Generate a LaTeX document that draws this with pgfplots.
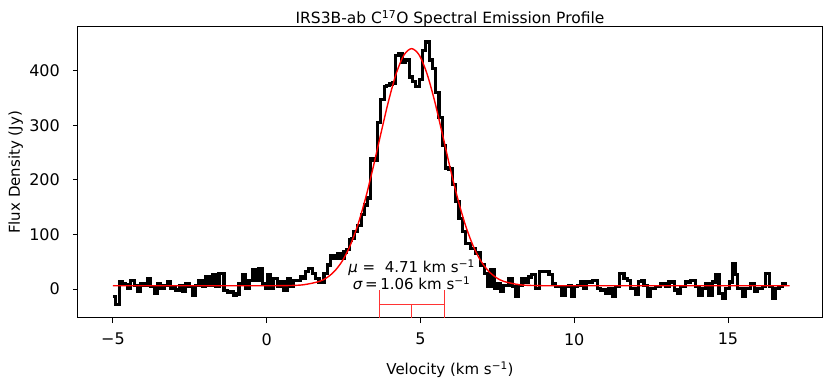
\documentclass[border=0pt]{standalone}
\usepackage{fontspec}
\setmainfont{DejaVu Sans}
\usepackage{pgfplots}
\pgfplotsset{compat=1.18}

% velocity bin left edge, flux density (Jy)
\pgfplotstableread{
x y
-5.00 -14
-4.91 -29
-4.80 13
-4.69 10
-4.61 8
-4.53 1
-4.42 16
-4.31 7
-4.21 -5
-4.10 10
-3.99 7
-3.88 20
-3.77 4
-3.66 -8
-3.56 10
-3.45 1
-3.34 7
-3.23 13
-3.12 1
-3.04 5
-2.96 -2
-2.85 7
-2.74 -5
-2.63 10
-2.53 4
-2.42 -11
-2.31 7
-2.20 16
-2.09 4
-1.98 22
-1.88 7
-1.77 26
-1.66 4
-1.55 29
-1.39 -3
-1.28 -6
-1.17 -5
-1.07 -11
-0.98 -9
-0.90 10
-0.80 26
-0.69 1
-0.58 16
-0.47 35
-0.36 16
-0.25 38
-0.15 10
-0.04 1
0.02 26
0.13 1
0.23 20
0.34 4
0.45 13
0.56 -2
0.67 20
0.78 4
0.88 16
0.99 16
1.10 22
1.18 20
1.26 32
1.37 38
1.48 29
1.59 20
1.70 13
1.78 12
1.86 29
1.97 44
2.08 62
2.19 56
2.30 65
2.41 57
2.51 68
2.60 72
2.68 90
2.76 92
2.84 105
2.95 117
3.08 136
3.17 154
3.27 167
3.38 240
3.49 236
3.60 305
3.71 347
3.82 371
3.90 373
3.98 376
4.09 378
4.20 429
4.30 431
4.40 416
4.50 420
4.58 420
4.64 389
4.74 380
4.85 371
4.96 385
5.06 438
5.17 453
5.28 420
5.39 405
5.50 361
5.60 314
5.71 264
5.82 222
5.93 220
6.04 191
6.15 160
6.25 130
6.36 105
6.47 84
6.55 84
6.63 75
6.72 74
6.80 66
6.88 66
6.96 44
7.07 29
7.18 4
7.29 35
7.40 1
7.50 10
7.60 -5
7.70 7
7.79 7
7.88 20
7.98 4
8.10 -14
8.20 7
8.30 20
8.40 13
8.50 22
8.60 26
8.74 1
8.86 32
8.97 32
9.07 32
9.18 26
9.29 10
9.40 4
9.50 4
9.60 -11
9.70 4
9.80 7
9.90 -14
10.00 4
10.10 7
10.20 13
10.30 1
10.40 13
10.50 13
10.60 16
10.75 1
10.86 -2
10.94 -2
11.02 -8
11.13 1
11.24 -14
11.35 4
11.46 29
11.54 29
11.62 20
11.73 16
11.84 1
11.92 1
12.00 -10
12.10 14
12.20 16
12.27 7
12.38 -14
12.49 1
12.57 1
12.65 4
12.73 4
12.81 10
12.90 10
12.98 4
13.08 13
13.16 13
13.25 -2
13.35 -8
13.46 4
13.55 4
13.63 13
13.71 13
13.79 16
13.87 16
13.95 4
14.06 -11
14.17 1
14.28 10
14.38 -11
14.49 13
14.60 26
14.71 -8
14.82 -17
14.93 1
15.04 13
15.14 47
15.25 26
15.30 1
15.39 1
15.47 -14
15.58 1
15.66 1
15.74 10
15.85 -5
15.96 1
16.04 1
16.12 4
16.23 29
16.34 4
16.44 -17
16.55 1
16.66 4
16.77 10
16.93 10
}\spectrum

% gaussian fit, mu = 4.71, sigma = 1.06
\pgfplotstableread{
x y
-5.00 6.0
-0.29 6.0
0.71 6.35
1.21 7.9
1.71 13.9
1.96 21.0
2.21 33.0
2.46 51.7
2.71 79.4
2.96 117.3
3.21 165.8
3.46 223.0
3.71 284.8
3.96 344.7
4.21 395.2
4.46 429.1
4.71 441.0
4.96 429.1
5.21 395.2
5.46 344.7
5.71 284.8
5.96 223.0
6.21 165.8
6.46 117.3
6.71 79.4
6.96 51.7
7.21 33.0
7.46 21.0
7.71 13.9
8.21 7.9
8.71 6.35
9.71 6.0
17.00 6.0
}\fit

\begin{document}
\fontsize{15pt}{17pt}\selectfont
\begin{tikzpicture}
\path[use as bounding box] (-78pt,-70pt) rectangle (752pt,318pt);
\begin{axis}[
    at={(0,0)}, anchor=south west,
    scale only axis,
    width=744pt, height=291pt,
    xmin=-6.138, xmax=18.057,
    ymin=-53.2, ymax=480.7,
    xtick={-5,0,5,10,15},
    xticklabels={−5,0,5,10,15},
    ytick={0,100,200,300,400},
    tick align=outside,
    tick pos=left,
    major tick length=5pt,
    tick style={black, line width=1pt},
    axis line style={line width=1pt},
    /pgf/number format/assume math mode=true,
    ticklabel style={font=\fontsize{16pt}{18pt}\selectfont},
    xticklabel style={yshift=-5pt},
    yticklabel style={xshift=-8pt},
    label style={font=\fontsize{15pt}{17pt}\selectfont},
    xlabel={Velocity (km s\textsuperscript{−1})},
    ylabel={Flux Density (Jy)},
    xlabel style={yshift=-6pt},
    ylabel style={yshift=-4pt},
    title={IRS3B-ab C\textsuperscript{17}O Spectral Emission Profile},
    title style={font=\fontsize{15.5pt}{17pt}\selectfont, yshift=-11pt},
]
\addplot[black, line width=3.2pt, const plot mark left, line join=miter] table {\spectrum};
\addplot[red, line width=1.4pt, smooth] table {\fit};

\addplot[red!80, line width=0.9pt] coordinates {(3.65,-27.5) (5.77,-27.5)};
\addplot[red!80, line width=0.9pt] coordinates {(3.65,-2) (3.65,-53.2)};
\addplot[red!80, line width=0.9pt] coordinates {(5.77,-2) (5.77,-53.2)};
\addplot[red!80, line width=0.9pt] coordinates {(4.71,-27.5) (4.71,-53.2)};

\node[font=\fontsize{15pt}{14.5pt}\selectfont, align=center]
    at (axis cs:4.71,25.7)
    {\textit{μ} =\ \ 4.71 km s\textsuperscript{−1}\\\textit{σ}\,=\,1.06 km s\textsuperscript{−1}};
\end{axis}
\end{tikzpicture}
\end{document}
